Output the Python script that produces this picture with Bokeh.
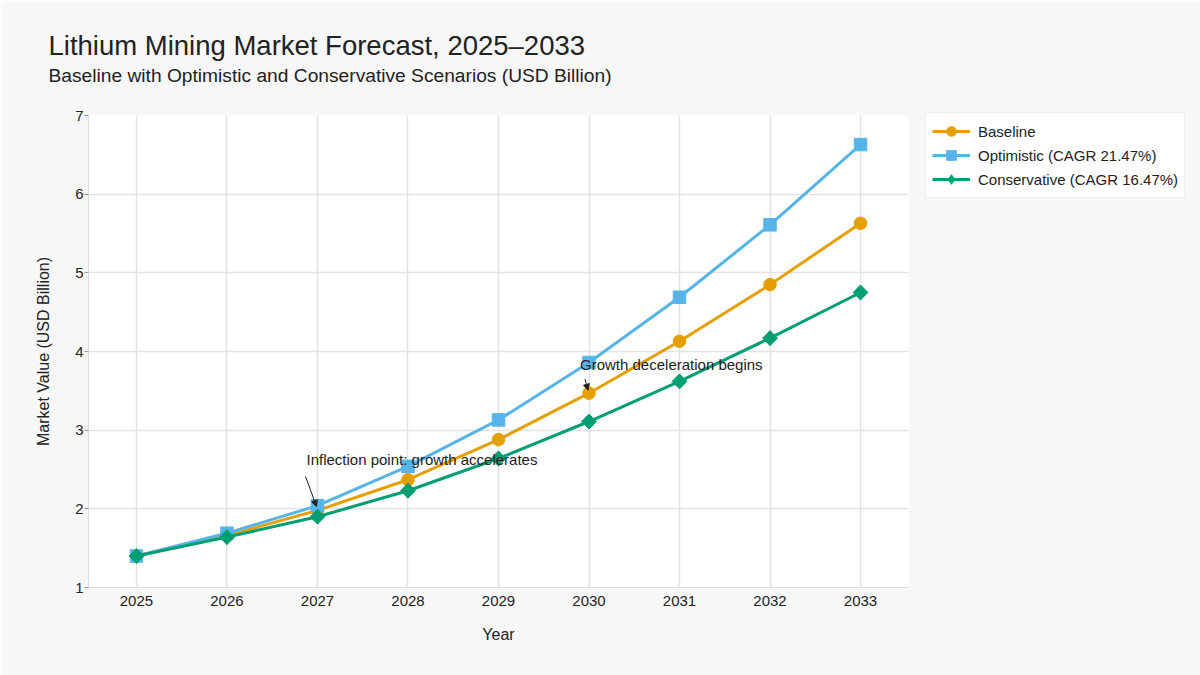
import math
from bokeh.plotting import figure
from bokeh.models import (Title, Legend, LegendItem, Arrow, NormalHead, Label,
                          FixedTicker, Range1d)
from bokeh.embed import file_html
from bokeh.resources import INLINE

years = [2025, 2026, 2027, 2028, 2029, 2030, 2031, 2032, 2033]
baseline = [1.40, 1.66, 1.98, 2.37, 2.88, 3.47, 4.13, 4.85, 5.63]
optimistic = [1.40, 1.69, 2.04, 2.54, 3.13, 3.86, 4.69, 5.61, 6.63]
conservative = [1.40, 1.64, 1.90, 2.23, 2.64, 3.11, 3.62, 4.17, 4.75]
series_names = ["Baseline", "Optimistic (CAGR 21.47%)", "Conservative (CAGR 16.47%)"]
y_ticks = [1, 2, 3, 4, 5, 6, 7]
annotations = [
    ("Inflection point: growth accelerates", 2027, 1.98),
    ("Growth deceleration begins", 2030, 3.47),
]

FONT = "Liberation Sans"
BG = "#f7f7f7"

p = figure(frame_width=820, frame_height=472, output_backend="svg", toolbar_location=None,
           x_range=Range1d(2024.47, 2033.53), y_range=Range1d(1, 7),
           background_fill_color="white", border_fill_color=BG,
           min_border_left=88, min_border_right=0, min_border_bottom=88,
           min_border_top=115)
p.outline_line_color = None

p.title.text = "Lithium Mining Market Forecast, 2025\u20132033"
p.title.text_font = FONT
p.title.text_font_size = "27.5px"
p.title.text_font_style = "normal"
p.title.text_color = "#222222"
p.title.align = "left"
p.title.offset = -40
try:
    p.title.standoff = -54
except Exception:
    p.title.standoff = 0
p.add_layout(Title(text="Baseline with Optimistic and Conservative Scenarios (USD Billion)",
                   text_font=FONT, text_font_size="19.2px", text_font_style="normal",
                   text_color="#222222", align="left", offset=-40, standoff=59), "above")

p.xaxis.ticker = FixedTicker(ticks=years)
p.yaxis.ticker = FixedTicker(ticks=y_ticks)
for ax in (p.xaxis[0], p.yaxis[0]):
    ax.axis_line_color = "#dddddd"
    ax.major_tick_line_color = "#999999"
    ax.minor_tick_line_color = None
    ax.major_tick_in = 0
    ax.major_tick_out = 0
    ax.major_label_text_font = FONT
    ax.major_label_text_font_size = "15px"
    ax.major_label_text_color = "#222222"
    ax.axis_label_text_font = FONT
    ax.axis_label_text_font_size = "16px"
    ax.axis_label_text_font_style = "normal"
    ax.axis_label_text_color = "#222222"
p.yaxis.major_tick_out = 4
p.xaxis.axis_label = "Year"
p.yaxis.axis_label = "Market Value (USD Billion)"
p.xaxis.major_label_standoff = 8
p.yaxis.major_label_standoff = 1
p.xaxis.axis_label_standoff = 17
p.yaxis.axis_label_standoff = 20

p.xgrid.grid_line_color = "#e2e2e2"
p.ygrid.grid_line_color = "#e2e2e2"
p.xgrid.grid_line_width = 1.5
p.ygrid.grid_line_width = 1.5

colors = ["#E69F00", "#56B4E9", "#009E73"]
l1 = p.line(years, baseline, line_color=colors[0], line_width=3)
m1 = p.scatter(years, baseline, marker="circle", size=12.5, color=colors[0])
l2 = p.line(years, optimistic, line_color=colors[1], line_width=3)
m2 = p.scatter(years, optimistic, marker="square", size=12.5, color=colors[1])
l3 = p.line(years, conservative, line_color=colors[2], line_width=3)
d3 = p.scatter(years, conservative, marker="diamond", size=14.5, color=colors[2])
m3 = p.scatter(years, conservative, marker="square", size=10.5, angle=math.pi / 4,
               color=colors[2])
items = [LegendItem(label=series_names[0], renderers=[l1, m1]),
         LegendItem(label=series_names[1], renderers=[l2, m2]),
         LegendItem(label=series_names[2], renderers=[l3, d3])]
legend = Legend(items=items, location=(17, 389), label_text_font=FONT,
                label_text_font_size="15px", label_text_color="#222222",
                border_line_color="#dddddd", background_fill_color="white",
                glyph_width=38, glyph_height=24, spacing=0, padding=6,
                margin=14, label_standoff=8)
p.add_layout(legend, "right")

# annotations
txt1, x1, y1 = annotations[0]
p.add_layout(Label(x=x1, y=y1, text=txt1, x_offset=-11, y_offset=42,
                   text_font=FONT, text_font_size="15px", text_color="#222222"))
txt2, x2, y2 = annotations[1]
p.add_layout(Label(x=x2, y=y2, text=txt2, x_offset=-9, y_offset=20,
                   text_font=FONT, text_font_size="15px", text_color="#222222"))

ppx = 820 / (2033.53 - 2024.47)
ppy = 472 / 6.0
p.add_layout(Arrow(end=NormalHead(size=6, fill_color="#222222", line_color="#222222"),
                   x_start=x1 - 12 / ppx, y_start=y1 + 34 / ppy,
                   x_end=x1 - 1 / ppx, y_end=y1 + 4 / ppy,
                   line_color="#222222", line_width=1))
p.add_layout(Arrow(end=NormalHead(size=6, fill_color="#222222", line_color="#222222"),
                   x_start=x2 - 4 / ppx, y_start=y2 + 14 / ppy,
                   x_end=x2 - 1 / ppx, y_end=y2 + 3 / ppy,
                   line_color="#222222", line_width=1))

open("out.html", "w").write(file_html(p, INLINE))
